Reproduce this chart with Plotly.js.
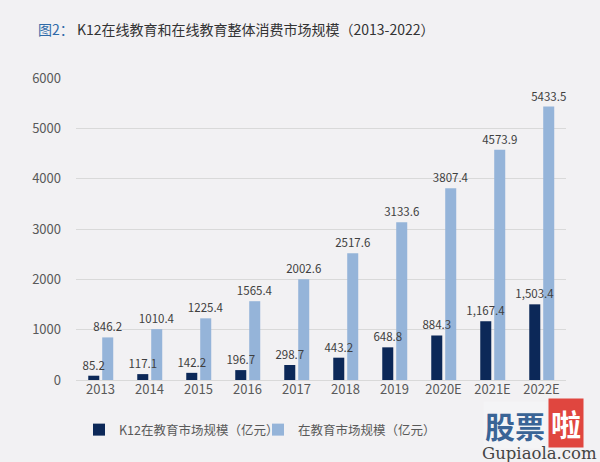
<!DOCTYPE html>
<html>
<head>
<meta charset="utf-8">
<script src="https://cdn.plot.ly/plotly-3.0.1.min.js"></script>
<style>
html,body{margin:0;padding:0;background:#f2f1f3;}
#chart{width:600px;height:462px;}
</style>
</head>
<body>
<div id="chart"></div>
<script>
const categories = ["2013","2014","2015","2016","2017","2018","2019","2020E","2021E","2022E"];
const k12Values = [85.2,117.1,142.2,196.7,298.7,443.2,648.8,884.3,1167.4,1503.4];
const k12Labels = ["85.2","117.1","142.2","196.7","298.7","443.2","648.8","884.3","1,167.4","1,503.4"];
const totalValues = [846.2,1010.4,1225.4,1565.4,2002.6,2517.6,3133.6,3807.4,4573.9,5433.5];
const totalLabels = ["846.2","1010.4","1225.4","1565.4","2002.6","2517.6","3133.6","3807.4","4573.9","5433.5"];
const yTicks = [0,1000,2000,3000,4000,5000,6000];
const seriesNames = ["K12在教育市场规模（亿元）","在教育市场规模（亿元）"];

const font = "Noto Sans CJK SC, Noto Sans, sans-serif";

// light series drawn first so that the K12 labels sit on top of it
const traces = [
  {type:"bar", name:seriesNames[1], x:categories, y:totalValues, text:totalLabels,
   width:0.225, offset:0.035, legendrank:2,
   textposition:"outside", cliponaxis:false, constraintext:"none", marker:{color:"#95b4d9"},
   textfont:{size:11.5, color:"#404040", family:font}, hoverinfo:"x+y"},
  {type:"bar", name:seriesNames[0], x:categories, y:k12Values, text:k12Labels,
   width:0.225, offset:-0.25, legendrank:1,
   textposition:"outside", cliponaxis:false, constraintext:"none", marker:{color:"#0c2858"},
   textfont:{size:11.5, color:"#404040", family:font}, hoverinfo:"x+y"}
];

const layout = {
  width:600, height:462,
  paper_bgcolor:"#f2f1f3", plot_bgcolor:"#f2f1f3",
  margin:{l:76, r:34, t:78, b:82},
  font:{family:font, color:"#595959"},
  title:{text:'<span style="color:#2e6aa8">图2：</span> K12在线教育和在线教育整体消费市场规模（2013-2022）',
         font:{size:14, color:"#333333", family:font}, x:38/600, xanchor:"left", y:1-30/462, yanchor:"middle"},
  barmode:"overlay",
  xaxis:{type:"category", tickfont:{size:13, color:"#595959"}, showgrid:false, zeroline:false,
         showline:false, ticks:""},
  yaxis:{range:[0,6000], tickvals:yTicks, tickfont:{size:13, color:"#595959"},
         gridcolor:"#d9d9d9", gridwidth:1, zeroline:true, zerolinecolor:"#d9d9d9", showline:false,
         ticklabelstandoff:14},
  legend:{orientation:"h", x:79/600, xref:"container", xanchor:"left", y:1-430/462, yref:"container", yanchor:"middle",
          font:{size:12.5, color:"#595959"}, itemwidth:30, entrywidth:134, entrywidthmode:"pixels",
          bgcolor:"rgba(0,0,0,0)"},
  showlegend:true,
  annotations:[
    {xref:"paper", yref:"paper", x:(483-76)/490, y:-(425-380)/302, xanchor:"left", yanchor:"middle",
     text:"<b>股票</b>", showarrow:false, font:{size:30, color:"#3a6496", family:font}, bgcolor:"#f4f4f6"},
    {xref:"paper", yref:"paper", x:(548-76)/490, y:-(423-380)/302, xanchor:"left", yanchor:"middle",
     text:"<b>啦</b>", showarrow:false, font:{size:30, color:"#ffffff", family:font}, bgcolor:"#e0463f", borderpad:2},
    {xref:"paper", yref:"paper", x:(480-76)/490, y:-(453-380)/302, xanchor:"left", yanchor:"middle",
     text:"Gupiaola.com", showarrow:false, font:{size:16.5, color:"#444444", family:"DejaVu Serif, serif"}}
  ]
};

Plotly.newPlot("chart", traces, layout, {displayModeBar:false, staticPlot:true});
</script>
</body>
</html>
